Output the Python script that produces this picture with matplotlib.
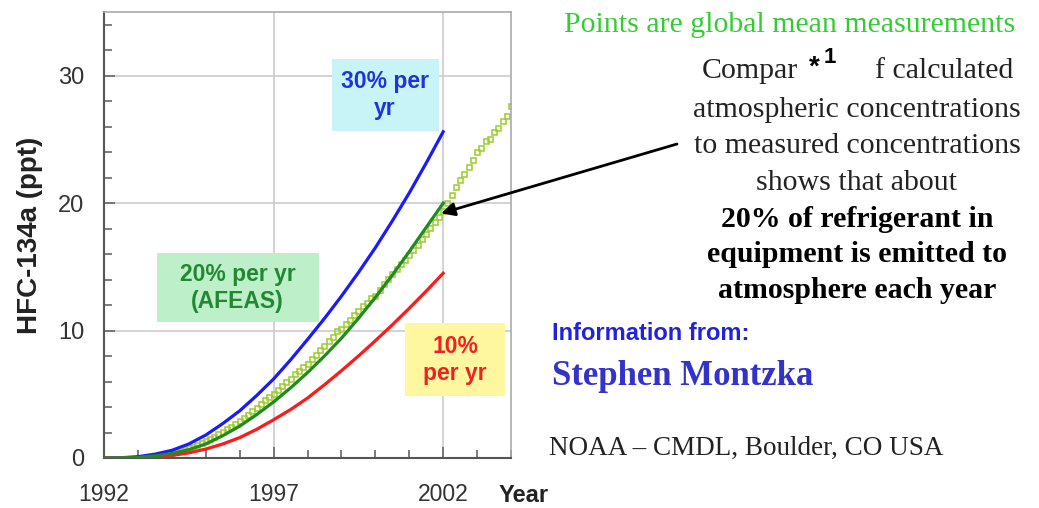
import matplotlib.pyplot as plt
from matplotlib.patches import Rectangle
from matplotlib.ticker import MultipleLocator

# model curves, half-year steps
years_model = [1992.0, 1992.5, 1993.0, 1993.5, 1994.0, 1994.5, 1995.0, 1995.5, 1996.0, 1996.5, 1997.0,
               1997.5, 1998.0, 1998.5, 1999.0, 1999.5, 2000.0, 2000.5, 2001.0, 2001.5, 2002.0]
rate30 = [0.0, 0.02, 0.1, 0.3, 0.6, 1.1, 1.8, 2.7, 3.7, 4.9, 6.2,
          7.7, 9.3, 10.95, 12.7, 14.55, 16.5, 18.6, 20.8, 23.15, 25.6]
rate20 = [0.0, 0.01, 0.05, 0.17, 0.35, 0.65, 1.1, 1.75, 2.5, 3.4, 4.4,
          5.5, 6.7, 8.0, 9.4, 10.95, 12.6, 14.35, 16.2, 18.1, 20.0]
rate10 = [0.0, 0.0, 0.02, 0.08, 0.2, 0.4, 0.7, 1.1, 1.6, 2.25, 3.0,
          3.8, 4.7, 5.75, 6.85, 8.0, 9.2, 10.45, 11.75, 13.1, 14.5]

# global mean measurements, 8 per year
years_meas = [1994 + i * 0.125 for i in range(81)]
measured = [0.40, 0.47, 0.58, 0.66, 0.79, 0.90, 1.04, 1.15,
            1.30, 1.49, 1.64, 1.86, 2.04, 2.27, 2.44, 2.69,
            2.90, 3.16, 3.38, 3.67, 3.93, 4.27, 4.53, 4.82,
            5.05, 5.37, 5.62, 5.97, 6.22, 6.58, 6.82, 7.12,
            7.35, 7.78, 8.06, 8.48, 8.76, 9.22, 9.52, 9.96,
            10.15, 10.55, 10.85, 11.22, 11.55, 11.92, 12.20, 12.55,
            12.75, 13.20, 13.65, 14.05, 14.45, 14.85, 15.20, 15.55,
            15.90, 16.30, 16.75, 17.20, 17.60, 18.05, 18.50, 18.95,
            19.40, 20.05, 20.60, 21.25, 21.80, 22.25, 22.85, 23.40,
            24.00, 24.35, 24.85, 25.05, 25.55, 25.90, 26.45, 26.85,
            27.60]

xticks = [1992, 1997, 2002]
yticks = [0, 10, 20, 30]

W, H = 1039, 508
fig = plt.figure(figsize=(W / 100, H / 100), dpi=100)
ax = fig.add_axes([104 / W, 1 - 458 / H, (511 - 104) / W, (458 - 12) / H])

ax.plot(years_meas, measured, 's', ms=3.6, mfc='none', mec='#9acd2a', mew=1.1, zorder=2)
ax.plot(years_model, rate30, color='#1a1aff', lw=2.3, zorder=3)
ax.plot(years_model, rate10, color='#ff1a1a', lw=2.3, zorder=3)
ax.plot(years_model, rate20, color='#1e8c1e', lw=2.3, zorder=4)

ax.set_xlim(1992, 2004)
ax.set_ylim(0, 35)
ax.set_xticks(xticks)
ax.set_yticks(yticks)
ax.xaxis.set_minor_locator(MultipleLocator(1))
ax.yaxis.set_minor_locator(MultipleLocator(2))
ax.tick_params(which='both', direction='in', colors='#666666', width=1.2,
               top=False, right=False, labelcolor='#333333',
               labelfontfamily='Liberation Sans', labelsize=17)
ax.tick_params(which='major', length=8)
ax.tick_params(which='minor', length=6)
ax.tick_params(axis='x', pad=18, labelsize=16.5)
ax.tick_params(axis='y', pad=14)
ax.set_axisbelow(True)
ax.grid(True, which='major', color='#cccccc', lw=1.2)
for s in ['left', 'bottom']:
    ax.spines[s].set_color('#555555')
    ax.spines[s].set_linewidth(1.5)
for s in ['top', 'right']:
    ax.spines[s].set_color('#aaaaaa')
    ax.spines[s].set_linewidth(1.2)

# labelled boxes
boxes = [((1998.71, 25.65), 3.17, 5.64, '#c8f4f8', '30% per\nyr', '#2233dd', (2000.29, 28.47)),
         ((1993.56, 10.67), 4.79, 5.41, '#bdf0c8', '20% per yr\n(AFEAS)', '#228833', (1995.94, 13.33)),
         ((2000.88, 4.86), 2.94, 5.73, '#fff7a0', '10%\nper yr', '#ee2222', (2002.35, 7.69))]
for xy, w, h, fc, txt, tc, c in boxes:
    ax.add_patch(Rectangle(xy, w, h, fc=fc, ec='none', zorder=1))
    ax.text(c[0], c[1], txt, ha='center', va='center', color=tc, fontsize=16.5,
            fontweight='bold', family='Liberation Sans', linespacing=1.25, zorder=5)

ax.annotate('', xy=(2001.94, 19.2), xycoords='data',
            xytext=(677 / W, 1 - 144 / H), textcoords='figure fraction',
            arrowprops=dict(arrowstyle='-|>', lw=2, color='black', mutation_scale=20,
                            shrinkA=0, shrinkB=0))

fig.text(30 / W, 1 - 235 / H, 'HFC-134a (ppt)', rotation=90, ha='center', va='center',
         fontsize=20, fontweight='bold', family='Liberation Sans', color='#222222')
fig.text(524 / W, 1 - 496 / H, 'Year', ha='center', va='center',
         fontsize=17, fontweight='bold', family='Liberation Sans', color='#222222')


def ftext(x, y, s, **kw):
    fig.text(x / W, 1 - y / H, s, va='baseline', **kw)


serif = 'Liberation Serif'
ftext(790, 32, 'Points are global mean measurements', ha='center', fontsize=21.5,
      family=serif, color='#33cc33')
ftext(798, 78, 'Compar', ha='right', fontsize=21.5, family=serif, color='#222222')
ftext(814, 75, '*', ha='center', fontsize=20, fontweight='bold', family='Liberation Sans', color='black')
ftext(830, 63, '1', ha='center', fontsize=16, fontweight='bold', family='Liberation Sans', color='black')
ftext(875, 78, 'f calculated', ha='left', fontsize=21.5, family=serif, color='#222222')
lines = [('atmospheric concentrations', 117, 'normal'),
         ('to measured concentrations', 153, 'normal'),
         ('shows that about', 190, 'normal'),
         ('20% of refrigerant in', 227, 'bold'),
         ('equipment is emitted to', 262, 'bold'),
         ('atmosphere each year', 298, 'bold')]
for s, y, wt in lines:
    ftext(857, y, s, ha='center', fontsize=21.5, family=serif, fontweight=wt,
          color='#222222' if wt == 'normal' else 'black')

ftext(552, 340, 'Information from:', ha='left', fontsize=17, fontweight='bold',
      family='Liberation Sans', color='#2222dd')
ftext(552, 385, 'Stephen Montzka', ha='left', fontsize=25, fontweight='bold',
      family=serif, color='#3333cc')
ftext(549, 455, 'NOAA – CMDL, Boulder, CO USA', ha='left', fontsize=19.5,
      family=serif, color='#222222')

fig.savefig('out.png', dpi=100)
